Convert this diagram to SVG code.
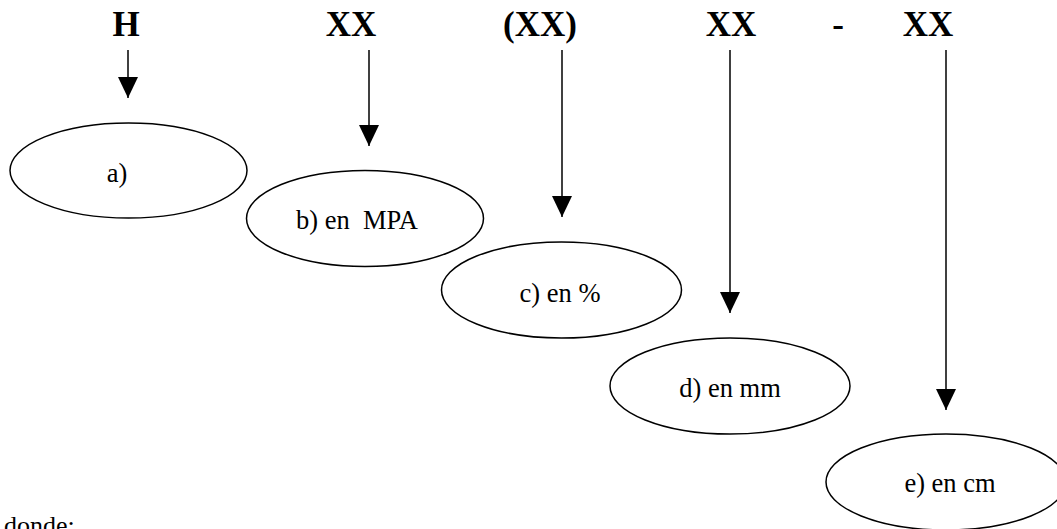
<svg xmlns="http://www.w3.org/2000/svg" width="1057" height="529" viewBox="0 0 1057 529">
<defs>
<marker id="ah" markerWidth="21" markerHeight="20" refX="21" refY="10" orient="auto" markerUnits="userSpaceOnUse" viewBox="0 0 21 20">
<path d="M0,0 L21,10 L0,20 Z" fill="#000"/>
</marker>
</defs>
<style>
.hd{font-family:"Liberation Serif","Times New Roman",serif;font-weight:bold;font-size:35px;text-anchor:middle;fill:#000}
.lb{font-family:"Liberation Serif","Times New Roman",serif;font-size:26.5px;text-anchor:middle;fill:#000}
.el{fill:#fff;stroke:#000;stroke-width:1.5}
.cn line{stroke:#000;stroke-width:1.5}
</style>
<rect width="1057" height="529" fill="#fff"/>
<g id="headers">
<text class="hd" x="126" y="36">H</text>
<text class="hd" x="351" y="36">XX</text>
<text class="hd" x="540" y="36">(XX)</text>
<text class="hd" x="731" y="36">XX</text>
<text class="hd" x="838" y="36">-</text>
<text class="hd" x="928" y="36">XX</text>
</g>
<g id="connectors" class="cn">
<line x1="128" y1="50" x2="128" y2="98" marker-end="url(#ah)"/>
<line x1="369" y1="50" x2="369" y2="146" marker-end="url(#ah)"/>
<line x1="562" y1="50" x2="562" y2="217" marker-end="url(#ah)"/>
<line x1="730" y1="50" x2="730" y2="313" marker-end="url(#ah)"/>
<line x1="946" y1="50" x2="946" y2="410" marker-end="url(#ah)"/>
</g>
<g id="node-a">
<ellipse class="el" cx="128.5" cy="170.5" rx="118.5" ry="47.5"/>
<text class="lb" x="117" y="182">a)</text>
</g>
<g id="node-b">
<ellipse class="el" cx="365" cy="218.5" rx="118.5" ry="48"/>
<text class="lb" x="357" y="229" xml:space="preserve">b) en  MPA</text>
</g>
<g id="node-c">
<ellipse class="el" cx="561.5" cy="290" rx="120" ry="48"/>
<text class="lb" x="560" y="302">c) en %</text>
</g>
<g id="node-d">
<ellipse class="el" cx="730" cy="386" rx="120" ry="48"/>
<text class="lb" x="730" y="397">d) en mm</text>
</g>
<g id="node-e">
<ellipse class="el" cx="946" cy="482" rx="120" ry="48"/>
<text class="lb" x="950" y="492">e) en cm</text>
</g>
<text x="4" y="534" style="font-family:'Liberation Serif','Times New Roman',serif;font-size:26px;fill:#000">donde:</text>
</svg>
